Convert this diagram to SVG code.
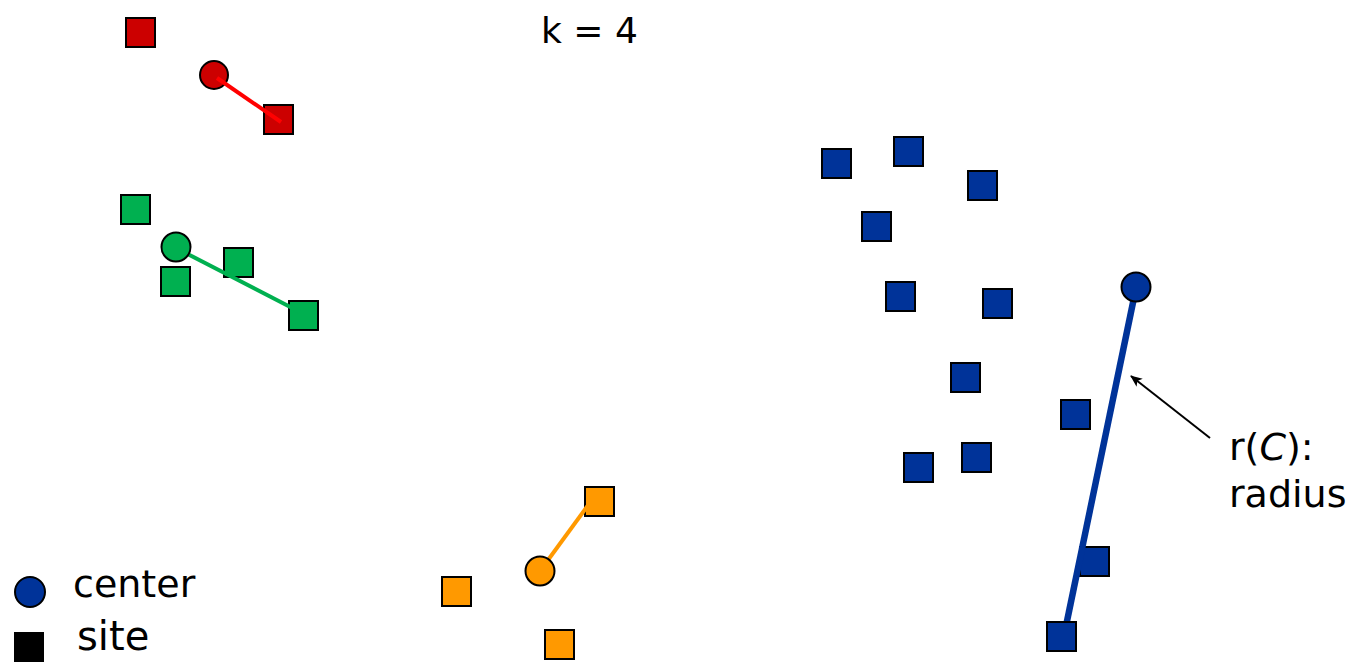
<svg xmlns="http://www.w3.org/2000/svg" width="1363" height="663" viewBox="0 0 1363 663">
<defs>
<style>
.sq{stroke:#000;stroke-width:2}
.ce{stroke:#000;stroke-width:2}
.red{fill:#CC0000}
.grn{fill:#00B050}
.org{fill:#FF9900}
.blu{fill:#003399}
.lbl{font-family:"DejaVu Sans",sans-serif;font-size:38px;fill:#000}
</style>
<marker id="ah" viewBox="0 0 12 12" refX="11" refY="6" markerWidth="12" markerHeight="12" orient="auto" markerUnits="userSpaceOnUse">
<path d="M0,1 L12,6 L0,11 L3,6 z" fill="#000"/>
</marker>
</defs>
<rect width="1363" height="663" fill="#fff"/>
<text class="lbl" x="541" y="43" font-size="36" style="font-size:36px">k = 4</text>

<g id="red-cluster">
<rect class="sq red" x="126" y="18" width="29" height="29"/>
<rect class="sq red" x="264" y="105" width="29" height="29"/>
<circle class="ce red" cx="214" cy="75" r="14"/>
</g>
<g id="green-cluster">
<rect class="sq grn" x="121" y="195" width="29" height="29"/>
<rect class="sq grn" x="161" y="267" width="29" height="29"/>
<rect class="sq grn" x="224" y="248" width="29" height="29"/>
<rect class="sq grn" x="289" y="301" width="29" height="29"/>
</g>
<g id="orange-cluster">
<rect class="sq org" x="585" y="487" width="29" height="29"/>
<rect class="sq org" x="442" y="577" width="29" height="29"/>
<rect class="sq org" x="545" y="630" width="29" height="29"/>
</g>
<g id="blue-cluster">
<rect class="sq blu" x="822" y="149" width="29" height="29"/>
<rect class="sq blu" x="894" y="137" width="29" height="29"/>
<rect class="sq blu" x="968" y="171" width="29" height="29"/>
<rect class="sq blu" x="862" y="212" width="29" height="29"/>
<rect class="sq blu" x="886" y="282" width="29" height="29"/>
<rect class="sq blu" x="983" y="289" width="29" height="29"/>
<rect class="sq blu" x="951" y="363" width="29" height="29"/>
<rect class="sq blu" x="1061" y="400" width="29" height="29"/>
<rect class="sq blu" x="904" y="453" width="29" height="29"/>
<rect class="sq blu" x="962" y="443" width="29" height="29"/>
<rect class="sq blu" x="1080" y="547" width="29" height="29"/>
</g>

<g id="connectors">
<line x1="217" y1="78" x2="281" y2="122" stroke="#FF0000" stroke-width="4"/>
<line x1="176" y1="248" x2="300" y2="312" stroke="#00B050" stroke-width="4"/>
<line x1="540" y1="571" x2="589" y2="504" stroke="#FF9900" stroke-width="4"/>
<line x1="1136" y1="288" x2="1066" y2="626" stroke="#003399" stroke-width="6.5"/>
<line x1="1210" y1="438" x2="1131" y2="376" stroke="#000" stroke-width="2" marker-end="url(#ah)"/>
</g>

<g id="centers">
<circle class="ce grn" cx="176" cy="247" r="14.5"/>
<circle class="ce org" cx="540" cy="571" r="14.5"/>
<circle class="ce blu" cx="1136" cy="287" r="14.5"/>
<rect class="sq blu" x="1047" y="622" width="29" height="29"/>
</g>

<g id="radius-label">
<text class="lbl" x="1229" y="460">r(<tspan font-style="italic">C</tspan>):</text>
<text class="lbl" x="1229" y="507">radius</text>
</g>

<g id="legend">
<circle class="ce blu" cx="30" cy="592" r="15"/>
<text class="lbl" x="73" y="597">center</text>
<rect x="14" y="632" width="30" height="30" fill="#000"/>
<text class="lbl" x="77" y="650" style="font-size:40px">site</text>
</g>
</svg>
